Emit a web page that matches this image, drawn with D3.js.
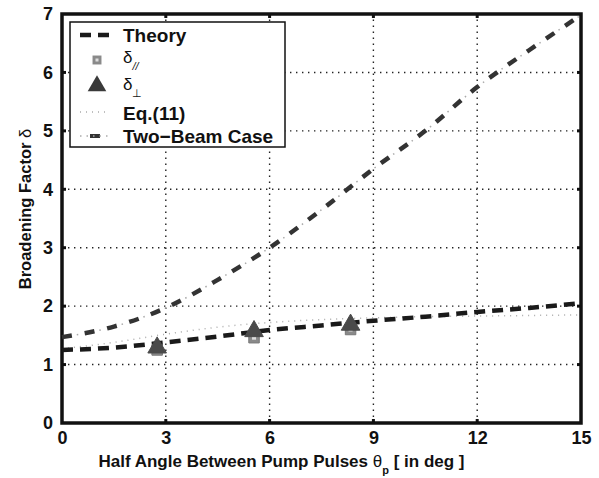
<!DOCTYPE html>
<html>
<head>
<meta charset="utf-8">
<script src="https://cdn.jsdelivr.net/npm/d3@7"></script>
<style>
  body { margin: 0; background: #fff; }
  text { font-family: "Liberation Sans", Arial, sans-serif; font-weight: bold; fill: #111; }
</style>
</head>
<body>
<svg id="chart" width="599" height="478"></svg>
<script>
// Data
// ----
const angles = [0, 1.5, 3, 4.5, 6, 7.5, 9, 10.5, 12, 13.5, 15];
const theory = [1.25, 1.29, 1.38, 1.48, 1.59, 1.67, 1.75, 1.82, 1.9, 1.97, 2.05];
const eq11 = [1.27, 1.38, 1.52, 1.64, 1.72, 1.77, 1.8, 1.82, 1.83, 1.84, 1.85];
const twoBeam = [1.47, 1.65, 1.97, 2.45, 3.0, 3.65, 4.35, 5.0, 5.75, 6.38, 6.98];
const measAngles = [2.75, 5.55, 8.34];
const deltaPar = [1.25, 1.46, 1.6];
const deltaPerp = [1.29, 1.57, 1.68];
const xTicks = [0, 3, 6, 9, 12, 15];
const yTicks = [0, 1, 2, 3, 4, 5, 6, 7];

// Layout
// ------
const svg = d3.select("#chart");
const margin = { left: 62, right: 18, top: 14, bottom: 55 };
const W = 599, H = 478;
const x = d3.scaleLinear().domain([0, 15]).range([margin.left, W - margin.right]);
const y = d3.scaleLinear().domain([0, 7]).range([H - margin.bottom, margin.top]);

// Grid
const grid = svg.append("g");
xTicks.slice(1, -1).forEach(t => {
	grid.append("line")
		.attr("x1", x(t)).attr("x2", x(t)).attr("y1", y(0)).attr("y2", y(7))
		.attr("stroke", "#222").attr("stroke-width", 1.4).attr("stroke-dasharray", "1.4,4.6");
});
yTicks.slice(1, -1).forEach(t => {
	grid.append("line")
		.attr("x1", x(0)).attr("x2", x(15)).attr("y1", y(t)).attr("y2", y(t))
		.attr("stroke", "#222").attr("stroke-width", 1.4).attr("stroke-dasharray", "1.4,4.6");
});

// Axes
const xAxis = d3.axisBottom(x).tickValues(xTicks).tickSize(0).tickPadding(8).tickFormat(d3.format("d"));
const yAxis = d3.axisLeft(y).tickValues(yTicks).tickSize(0).tickPadding(9).tickFormat(d3.format("d"));
const gx = svg.append("g").attr("transform", `translate(0,${y(0)})`).call(xAxis);
const gy = svg.append("g").attr("transform", `translate(${x(0)},0)`).call(yAxis);
[gx, gy].forEach(g => {
	g.select(".domain").remove();
	g.selectAll("text").style("font-family", "'Liberation Sans', Arial, sans-serif")
		.style("font-weight", "bold").style("font-size", "18px").attr("fill", "#111");
});

// Small inner ticks
xTicks.slice(1, -1).forEach(t => {
	svg.append("line").attr("x1", x(t)).attr("x2", x(t)).attr("y1", y(0)).attr("y2", y(0) - 4)
		.attr("stroke", "#111").attr("stroke-width", 3);
	svg.append("line").attr("x1", x(t)).attr("x2", x(t)).attr("y1", y(7)).attr("y2", y(7) + 4)
		.attr("stroke", "#111").attr("stroke-width", 3);
});
yTicks.slice(1, -1).forEach(t => {
	svg.append("line").attr("x1", x(0)).attr("x2", x(0) + 4).attr("y1", y(t)).attr("y2", y(t))
		.attr("stroke", "#111").attr("stroke-width", 3);
	svg.append("line").attr("x1", x(15)).attr("x2", x(15) - 4).attr("y1", y(t)).attr("y2", y(t))
		.attr("stroke", "#111").attr("stroke-width", 3);
});

// Frame
svg.append("rect")
	.attr("x", x(0)).attr("y", y(7)).attr("width", x(15) - x(0)).attr("height", y(0) - y(7))
	.attr("fill", "none").attr("stroke", "#111").attr("stroke-width", 3.5);

// Curves
const line = vals => d3.line().curve(d3.curveMonotoneX)
	.x((d, i) => x(angles[i])).y(d => y(d))(vals);

svg.append("path").attr("d", line(eq11))
	.attr("fill", "none").attr("stroke", "#aaa").attr("stroke-width", 1.5)
	.attr("stroke-dasharray", "1,5");
svg.append("path").attr("d", line(twoBeam))
	.attr("fill", "none").attr("stroke", "#333").attr("stroke-width", 4.5)
	.attr("stroke-dasharray", "10,13");
svg.append("path").attr("d", line(twoBeam))
	.attr("fill", "none").attr("stroke", "#aaa").attr("stroke-width", 1.5)
	.attr("stroke-dasharray", "0,15,1.5,6.5");
svg.append("path").attr("d", line(theory))
	.attr("fill", "none").attr("stroke", "#1a1a1a").attr("stroke-width", 4.5)
	.attr("stroke-dasharray", "11,7");

// Markers
const sym = (type, size) => d3.symbol().type(type).size(size)();
measAngles.forEach((a, i) => {
	svg.append("path").attr("d", sym(d3.symbolSquare, 110))
		.attr("transform", `translate(${x(a)},${y(deltaPar[i])})`)
		.attr("fill", "#8a8a8a").attr("stroke", "#777").attr("stroke-width", 1);
	svg.append("rect").attr("x", x(a) - 2).attr("y", y(deltaPar[i]) - 2).attr("width", 4).attr("height", 4)
		.attr("fill", "#ddd");
	svg.append("path").attr("d", sym(d3.symbolTriangle, 150))
		.attr("transform", `translate(${x(a)},${y(deltaPerp[i])})`)
		.attr("fill", "#4a4a4a").attr("stroke", "#4a4a4a").attr("stroke-width", 1);
});

// Legend
const lg = svg.append("g");
lg.append("rect").attr("x", 70).attr("y", 22).attr("width", 215).attr("height", 125)
	.attr("fill", "#fff").attr("stroke", "#111").attr("stroke-width", 1.5);
const lx1 = 80, lx2 = 110, tx = 123, fs = "19px";
// Theory
lg.append("line").attr("x1", lx1).attr("x2", lx2).attr("y1", 35).attr("y2", 35)
	.attr("stroke", "#1a1a1a").attr("stroke-width", 4.5).attr("stroke-dasharray", "11,7");
lg.append("text").attr("x", tx).attr("y", 42).style("font-size", fs).text("Theory");
// delta parallel
lg.append("path").attr("d", sym(d3.symbolSquare, 80)).attr("transform", "translate(97,60)")
	.attr("fill", "#8a8a8a");
lg.append("rect").attr("x", 95.5).attr("y", 58.5).attr("width", 3).attr("height", 3).attr("fill", "#ddd");
const tp = lg.append("text").attr("x", tx).attr("y", 63).style("font-size", "17px").style("font-weight", "normal");
tp.append("tspan").text("δ");
tp.append("tspan").attr("dy", 7).style("font-size", "11px").style("font-style", "italic").text("//");
// delta perpendicular
lg.append("path").attr("d", sym(d3.symbolTriangle, 150)).attr("transform", "translate(97,86)")
	.attr("fill", "#3a3a3a");
const tq = lg.append("text").attr("x", tx).attr("y", 90).style("font-size", "17px").style("font-weight", "normal");
tq.append("tspan").text("δ");
tq.append("tspan").attr("dy", 7).style("font-size", "11px").text("⊥");
// Eq.(11)
lg.append("line").attr("x1", lx1).attr("x2", lx2).attr("y1", 112).attr("y2", 112)
	.attr("stroke", "#aaa").attr("stroke-width", 1.5).attr("stroke-dasharray", "1,5");
lg.append("text").attr("x", tx).attr("y", 120).style("font-size", fs).text("Eq.(11)");
// Two-beam
lg.append("line").attr("x1", lx1).attr("x2", lx2).attr("y1", 136).attr("y2", 136)
	.attr("stroke", "#333").attr("stroke-width", 4).attr("stroke-dasharray", "0,10,10,20");
lg.append("line").attr("x1", lx1).attr("x2", lx2).attr("y1", 136).attr("y2", 136)
	.attr("stroke", "#aaa").attr("stroke-width", 1.5).attr("stroke-dasharray", "1.5,5");
lg.append("text").attr("x", tx).attr("y", 143).style("font-size", fs).text("Two\u2212Beam Case");

// Axis titles
const xt = svg.append("text").attr("x", (x(0) + x(15)) / 2 - 40).attr("y", 467)
	.attr("text-anchor", "middle").style("font-size", "17px");
xt.append("tspan").text("Half Angle Between Pump Pulses ");
xt.append("tspan").style("font-weight", "normal").text("θ");
xt.append("tspan").attr("dy", 7).style("font-size", "11px").text("p");
xt.append("tspan").attr("dy", -7).text(" [ in deg ]");

const yt = svg.append("text").attr("transform", "translate(31,209) rotate(-90)")
	.attr("text-anchor", "middle").style("font-size", "16.5px");
yt.append("tspan").text("Broadening Factor ");
yt.append("tspan").style("font-weight", "normal").text("δ");
</script>
</body>
</html>
